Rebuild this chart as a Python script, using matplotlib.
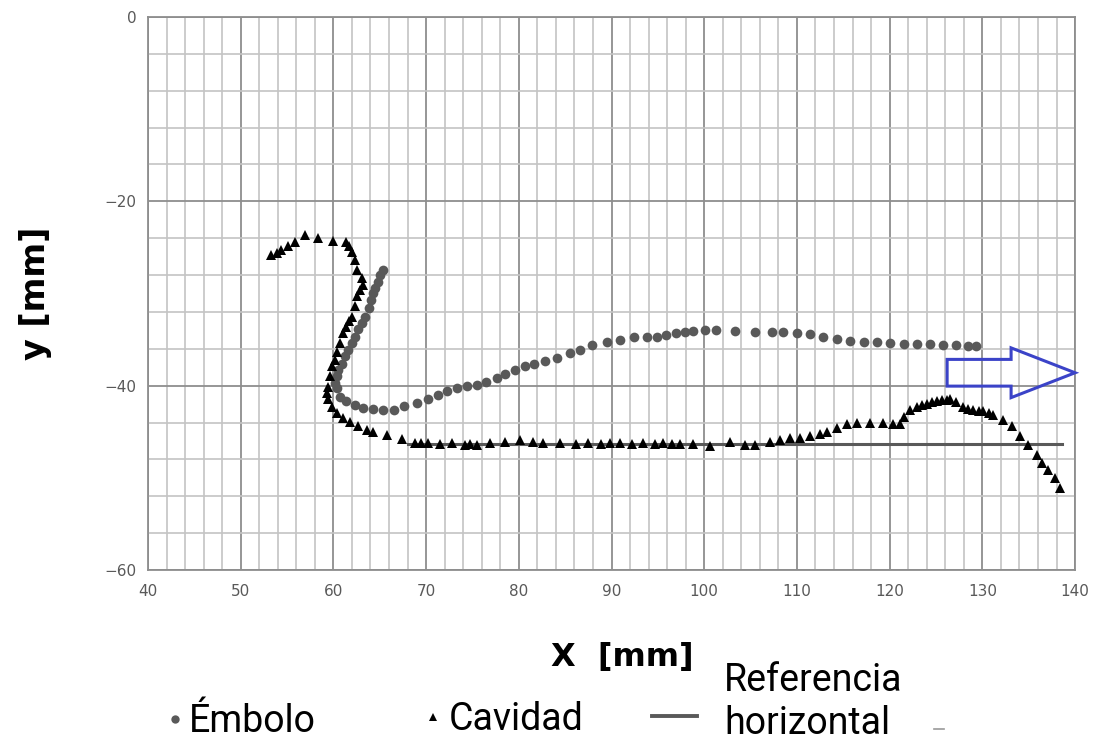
import numpy as np
import matplotlib.pyplot as plt
from matplotlib.lines import Line2D
from matplotlib.patches import FancyArrow

# Embolo (gray circles)
emb_x = [65.4, 65.0, 64.8, 64.5, 64.3, 64.1, 63.8, 63.4, 63.05, 62.7, 62.3, 62.0,
         61.6, 61.25, 60.9, 60.5, 60.35, 60.2, 60.35, 60.7, 61.4, 62.3, 63.2, 64.3,
         65.4, 66.5, 67.6, 69.0, 70.2, 71.3, 72.2, 73.3, 74.4, 75.5, 76.5, 77.6,
         78.5, 79.6, 80.7, 81.6, 82.8, 84.1, 85.5, 86.6, 87.9, 89.5, 90.9, 92.4,
         93.8, 94.9, 95.9, 97.0, 97.9, 98.8, 100.1, 101.3, 103.3, 105.5, 107.3,
         108.5, 110.0, 111.4, 112.8, 114.3, 115.7, 117.2, 118.6, 120.0, 121.5,
         122.9, 124.4, 125.8, 127.2, 128.4, 129.3]
emb_y = [-27.4, -28.0, -28.7, -29.4, -30.0, -30.7, -31.6, -32.5, -33.2, -33.9, -34.7,
         -35.4, -36.1, -36.8, -37.6, -38.3, -39.0, -39.7, -40.3, -41.2, -41.7, -42.1,
         -42.4, -42.55, -42.6, -42.6, -42.2, -41.9, -41.5, -41.0, -40.6, -40.3, -40.0,
         -39.9, -39.6, -39.2, -38.7, -38.3, -37.9, -37.6, -37.3, -37.0, -36.5, -36.1,
         -35.6, -35.3, -35.1, -34.7, -34.7, -34.7, -34.5, -34.3, -34.2, -34.1, -34.0,
         -33.95, -34.1, -34.2, -34.2, -34.2, -34.3, -34.4, -34.7, -34.96, -35.2,
         -35.3, -35.3, -35.4, -35.5, -35.5, -35.5, -35.6, -35.6, -35.65, -35.7]

# Cavidad (black triangles)
cav_x = [53.3, 53.9, 54.4, 55.1, 55.9, 56.9, 58.3, 59.96, 61.4, 61.7, 62.0, 62.3,
         62.5, 63.05, 63.2, 62.9, 62.5, 62.3, 62.0, 61.7, 61.4, 61.0, 60.7, 60.4, 60.2,
         59.8, 59.6, 59.4, 59.3, 59.4, 59.8, 60.4, 61.0, 61.8, 62.65, 63.6, 64.3,
         65.75, 67.4, 68.8, 69.5, 70.2, 71.5, 72.8, 74.2, 74.7, 75.5, 76.9, 78.5,
         80.1, 81.5, 82.6, 84.4, 86.2, 87.5, 88.9, 89.8, 90.9, 92.2, 93.4, 94.7,
         95.6, 96.5, 97.4, 98.8, 100.6, 102.8, 104.4, 105.5, 107.1, 108.2, 109.3,
         110.3, 111.4, 112.5, 113.2, 114.3, 115.4, 116.5, 117.9, 119.3, 120.4,
         121.1, 121.6, 122.2, 122.9, 123.5, 124.0, 124.6, 125.1, 125.7, 126.2, 126.5,
         127.2, 127.9, 128.5, 129.0, 129.6, 130.1, 130.7, 131.2, 132.2, 133.2, 134.1,
         134.9, 135.9, 136.4, 137.1, 137.8, 138.4]
cav_y = [-25.8, -25.6, -25.3, -24.9, -24.4, -23.6, -24.0, -24.3, -24.4, -24.9, -25.5,
         -26.4, -27.4, -28.3, -29.1, -29.6, -30.3, -31.4, -32.5, -33.0, -33.6, -34.3,
         -35.4, -36.4, -37.2, -37.9, -39.0, -40.1, -40.8, -41.5, -42.3, -43.0, -43.5,
         -43.9, -44.4, -44.8, -45.0, -45.3, -45.8, -46.2, -46.2, -46.2, -46.3, -46.2,
         -46.4, -46.3, -46.4, -46.2, -46.1, -45.9, -46.1, -46.2, -46.2, -46.3, -46.2,
         -46.3, -46.2, -46.2, -46.3, -46.2, -46.3, -46.2, -46.3, -46.3, -46.3, -46.6,
         -46.1, -46.4, -46.4, -46.1, -45.9, -45.7, -45.7, -45.5, -45.2, -45.0, -44.6,
         -44.2, -44.1, -44.1, -44.1, -44.2, -44.2, -43.4, -42.6, -42.3, -42.1, -41.98,
         -41.8, -41.7, -41.6, -41.6, -41.5, -41.8, -42.3, -42.5, -42.6, -42.7, -42.8,
         -43.0, -43.2, -43.7, -44.4, -45.5, -46.4, -47.5, -48.4, -49.1, -50.0, -51.1]

# Referencia horizontal
ref_x = [68.0, 138.6]
ref_y = [-46.3, -46.3]

x_ticks = np.arange(40, 141, 10)
y_ticks = np.arange(-60, 1, 20)

plt.rcParams['font.family'] = ['DejaVu Sans']

fig = plt.figure(figsize=(10.97, 7.45), dpi=100)
ax = fig.add_axes([0.1349, 0.2349, 0.8451, 0.7423])

ax.set_xlim(40, 140)
ax.set_ylim(-60, 0)
ax.set_xticks(x_ticks)
ax.set_yticks(y_ticks)
ax.set_xticks(np.arange(40, 141, 2), minor=True)
ax.set_yticks(np.arange(-60, 1, 4), minor=True)
ax.grid(which='minor', color='#c4c4c4', linewidth=1.2)
ax.grid(which='major', color='#8e8e8e', linewidth=1.3)
ax.set_axisbelow(True)
ax.tick_params(which='both', length=0, labelsize=11, colors='#595959', pad=8)
ax.tick_params(axis='x', pad=10)
for s in ax.spines.values():
    s.set_color('#8e8e8e')
    s.set_linewidth(1.3)

ax.plot(ref_x, ref_y, color='#595959', linewidth=2.2, zorder=2)
ax.plot(emb_x, emb_y, 'o', color='#595959', markersize=7, markeredgewidth=0, zorder=3)
ax.plot(cav_x, cav_y, '^', color='black', markersize=7.5, markeredgewidth=0, zorder=4)

# blue block arrow pointing right
arrow = FancyArrow(126.2, -38.6, 13.8, 0, width=2.9, head_width=5.4, head_length=6.9,
                   length_includes_head=True, facecolor='none', edgecolor='#3b43c8',
                   linewidth=2.2, clip_on=False, zorder=5)
ax.add_patch(arrow)

ax.set_ylabel('y [mm]', fontsize=24, fontweight='bold', labelpad=38)
fig.text(0.567, 0.118, 'X  [mm]', fontsize=23, fontweight='bold', ha='center', va='center')

# legend, laid out like the original (entries spread along the bottom)
W, H = 1097.0, 745.0
leg_font = dict(family='Roboto', fontsize=27, color='black', va='center', ha='left')
fig.add_artist(Line2D([175 / W], [1 - 719 / H], marker='o', color='#595959',
                      markersize=6, markeredgewidth=0, linestyle='none'))
fig.text(189 / W, 1 - 721 / H, 'Émbolo', **leg_font)
fig.add_artist(Line2D([433 / W], [1 - 717 / H], marker='^', color='black',
                      markersize=6, markeredgewidth=0, linestyle='none'))
fig.text(449 / W, 1 - 720 / H, 'Cavidad', **leg_font)
fig.add_artist(Line2D([652 / W, 697 / W], [1 - 716 / H, 1 - 716 / H], color='#595959',
                      linewidth=2.8))
fig.text(724 / W, 1 - 702 / H, 'Referencia\nhorizontal', linespacing=1.2, **leg_font)
fig.add_artist(Line2D([934 / W, 944 / W], [1 - 729 / H, 1 - 729 / H], color='#999999',
                      linewidth=1.2))

fig.savefig('out.png', dpi=100)
